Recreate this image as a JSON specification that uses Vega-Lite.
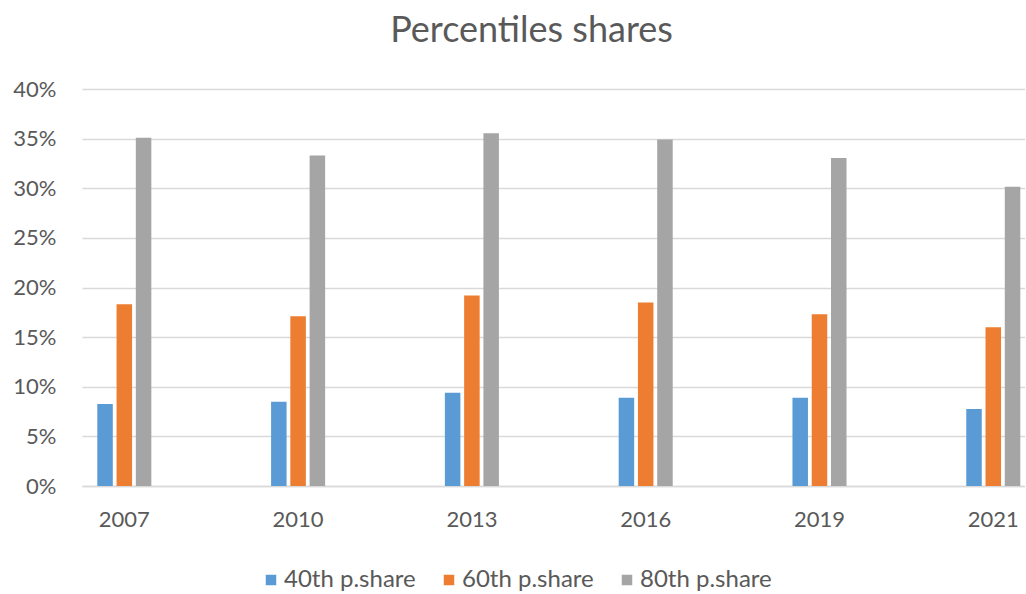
{
  "$schema": "https://vega.github.io/schema/vega-lite/v6.json",
  "width": 943,
  "height": 397,
  "padding": {"left": 12, "top": 13, "right": 0, "bottom": 5},
  "background": "white",
  "title": {
    "text": "Percentiles shares",
    "font": "Lato",
    "fontSize": 36,
    "fontWeight": "normal",
    "color": "#595959",
    "offset": 28,
    "dx": -22
  },
  "data": {
    "values": [
      {"year": "2007", "series": "40th p.share", "value": 0.0825},
      {"year": "2007", "series": "60th p.share", "value": 0.183},
      {"year": "2007", "series": "80th p.share", "value": 0.351},
      {"year": "2010", "series": "40th p.share", "value": 0.085},
      {"year": "2010", "series": "60th p.share", "value": 0.171},
      {"year": "2010", "series": "80th p.share", "value": 0.333},
      {"year": "2013", "series": "40th p.share", "value": 0.094},
      {"year": "2013", "series": "60th p.share", "value": 0.192},
      {"year": "2013", "series": "80th p.share", "value": 0.3555},
      {"year": "2016", "series": "40th p.share", "value": 0.089},
      {"year": "2016", "series": "60th p.share", "value": 0.185},
      {"year": "2016", "series": "80th p.share", "value": 0.349},
      {"year": "2019", "series": "40th p.share", "value": 0.089},
      {"year": "2019", "series": "60th p.share", "value": 0.173},
      {"year": "2019", "series": "80th p.share", "value": 0.3305},
      {"year": "2021", "series": "40th p.share", "value": 0.0775},
      {"year": "2021", "series": "60th p.share", "value": 0.16},
      {"year": "2021", "series": "80th p.share", "value": 0.3015}
    ]
  },
  "mark": {"type": "bar"},
  "encoding": {
    "x": {
      "field": "year",
      "type": "nominal",
      "sort": null,
      "scale": {"paddingInner": 0.689, "paddingOuter": 0.0575, "align": 0.765},
      "axis": {
        "title": null,
        "labelAngle": 0,
        "labelFont": "Lato",
        "labelFontSize": 22,
        "labelColor": "#595959",
        "labelPadding": 23,
        "ticks": false,
        "tickSize": 0,
        "domain": true,
        "domainColor": "#D9D9D9",
        "domainWidth": 1.5,
        "grid": false
      }
    },
    "xOffset": {
      "field": "series",
      "type": "nominal",
      "scale": {"paddingInner": 0.195, "paddingOuter": 0}
    },
    "y": {
      "field": "value",
      "type": "quantitative",
      "scale": {"domain": [0, 0.4], "nice": false},
      "axis": {
        "title": null,
        "values": [0, 0.05, 0.1, 0.15, 0.2, 0.25, 0.3, 0.35, 0.4],
        "format": ".0%",
        "labelFont": "Lato",
        "labelFontSize": 22,
        "labelColor": "#595959",
        "labelPadding": 26,
        "ticks": false,
        "tickSize": 0,
        "domain": false,
        "grid": true,
        "gridColor": "#D9D9D9",
        "gridWidth": 1.5
      }
    },
    "color": {
      "field": "series",
      "type": "nominal",
      "scale": {
        "domain": ["40th p.share", "60th p.share", "80th p.share"],
        "range": ["#5B9BD5", "#ED7D31", "#A5A5A5"]
      },
      "legend": {
        "orient": "none",
        "legendX": 177,
        "legendY": 479,
        "direction": "horizontal",
        "title": null,
        "symbolType": "square",
        "symbolSize": 110,
        "symbolStrokeWidth": 0,
        "labelOffset": 1,
        "labelFont": "Lato",
        "labelFontSize": 24,
        "labelColor": "#595959",
        "columnPadding": 21
      }
    }
  },
  "config": {
    "view": {"stroke": null}
  }
}
